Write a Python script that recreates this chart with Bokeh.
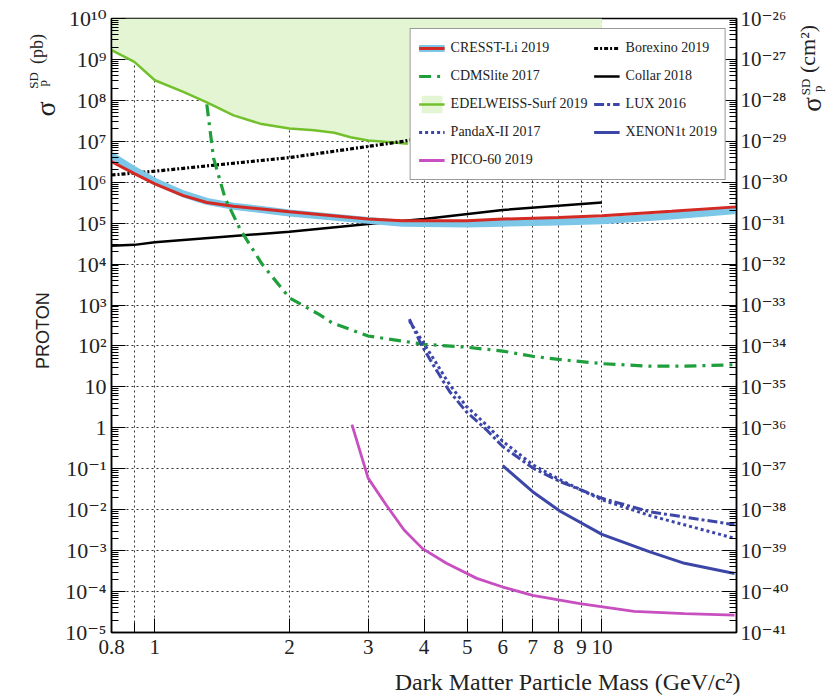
import math
from bokeh.plotting import figure
from bokeh.layouts import row, column
from bokeh.models import (Range1d, LogScale, LogAxis, FixedTicker,
                          CustomJSTickFormatter, Label, Legend, LegendItem)
from bokeh.embed import file_html
from bokeh.resources import INLINE

# ---------------- data (mass in GeV/c^2, cross section in pb) ----------------
edelweiss_m = [0.8, 0.9, 1.0, 1.158, 1.307, 1.5, 1.72, 2.0, 2.27, 2.52, 2.74, 3.0, 3.37, 3.68, 10.0]
edelweiss_v = [1.7e9, 8.7e8, 3.1e8, 1.62e8, 8.9e7, 4.3e7, 2.7e7, 2.05e7, 1.86e7, 1.62e7, 1.26e7, 1.05e7, 9.5e6, 8.7e6, 8.0e6]

borexino_m = [0.8, 1.0, 2.0, 3.0, 3.6, 3.85]
borexino_v = [1.5e6, 1.86e6, 4.0e6, 7.5e6, 1.0e7, 1.15e7]

cresst_m = [0.8, 0.9, 1.0, 1.158, 1.307, 1.5, 2.0, 3.0, 3.58, 5.0, 6.0, 8.0, 10.0, 14.3, 20.0]
cresst_red = [3.2e6, 1.62e6, 9.1e5, 4.7e5, 3.2e5, 2.6e5, 1.9e5, 1.26e5, 1.15e5, 1.15e5, 1.26e5, 1.38e5, 1.51e5, 1.95e5, 2.5e5]
cresst_blue = [4.5e6, 2.0e6, 1.05e6, 5.2e5, 3.4e5, 2.6e5, 1.78e5, 1.17e5, 1.0e5, 9.5e4, 1.0e5, 1.07e5, 1.15e5, 1.5e5, 2.05e5]

collar_m = [0.8, 0.9, 1.0, 2.0, 3.0, 4.0, 6.0, 10.0]
collar_v = [2.8e4, 2.95e4, 3.4e4, 6.2e4, 9.5e4, 1.26e5, 2.1e5, 3.2e5]

cdmslite_m = [1.307, 1.353, 1.437, 1.553, 1.737, 2.0, 2.33, 2.49, 3.0, 4.0, 5.0, 6.0, 7.0, 8.0, 10.0, 12.8, 15.3, 20.0]
cdmslite_v = [8.0e7, 3.9e6, 4.0e5, 7.0e4, 1.0e4, 1.5e3, 590, 370, 175, 110, 93, 75, 56, 47, 37, 32, 32, 35]

lux_m = [3.71, 3.94, 4.19, 4.56, 4.97, 5.51, 6.0, 7.0, 8.05, 10.0, 12.8, 19.8]
lux_v = [450, 110, 35, 7.8, 2.5, 0.91, 0.35, 0.105, 0.049, 0.019, 0.0089, 0.0043]

pandax_m = [3.71, 4.19, 4.56, 4.97, 5.51, 6.0, 7.0, 8.05, 10.0, 12.8, 19.8]
pandax_v = [410, 51, 11.5, 3.4, 1.2, 0.47, 0.126, 0.054, 0.0174, 0.0072, 0.002]

xenon_m = [6.0, 7.0, 8.05, 10.0, 12.8, 15.3, 19.8]
xenon_v = [0.12, 0.0275, 0.0093, 0.0025, 0.00093, 0.00049, 0.000275]

pico_m = [2.76, 3.0, 3.29, 3.61, 3.97, 4.49, 5.25, 6.0, 7.0, 8.93, 11.8, 15.3, 19.8]
pico_v = [1.2, 0.059, 0.0132, 0.0032, 0.00112, 0.00049, 0.00021, 0.000129, 8.1e-5, 5.1e-5, 3.3e-5, 2.9e-5, 2.65e-5]

x_ticks = [0.8, 1, 2, 3, 4, 5, 6, 7, 8, 9, 10]
x_minor = [0.9]
y_left_exponents = list(range(-5, 11))      # 10^-5 ... 10^10 pb
y_right_exponents = list(range(-41, -25))   # 10^-41 ... 10^-26 cm^2

SERIF = "Liberation Serif"
TICKFONT = "Liberation Serif, DejaVu Serif"
BLUE = "#3c46a8"
TXT = "#222222"

y_major = [10.0 ** e for e in y_left_exponents]
y_minor = [m * 10.0 ** e for e in y_left_exponents[:-1] for m in range(2, 10)]
r_major = [10.0 ** e for e in y_right_exponents]
r_minor = [m * 10.0 ** e for e in y_right_exponents[:-1] for m in range(2, 10)]

W_LEFT, W_RIGHT = 62, 44
H_TOP, H_BOTTOM = 665, 32

p = figure(width=728, height=H_TOP, x_axis_type="log", y_axis_type="log",
           x_range=Range1d(0.8, 20), y_range=Range1d(1e-5, 1e10),
           output_backend="svg", toolbar_location=None,
           min_border_left=48, min_border_right=55, min_border_top=18, min_border_bottom=33)
p.frame_width = 625
p.frame_height = 614
p.outline_line_color = "black"
p.outline_line_width = 1.5

p.extra_y_ranges = {"cm": Range1d(1e-41, 1e-26)}
p.extra_y_scales = {"cm": LogScale()}

sup_js = """
const sup = {"0":"\u2070","1":"\u00b9","2":"\u00b2","3":"\u00b3","4":"\u2074","5":"\u2075","6":"\u2076","7":"\u2077","8":"\u2078","9":"\u2079","-":"\u207b"};
const e = Math.round(Math.log10(tick));
if (ONE && e == 0) return "1";
if (ONE && e == 1) return "10";
return "10" + String(e).split("").map(c => sup[c]).join("");
"""

xa = p.xaxis[0]
xa.ticker = FixedTicker(ticks=x_ticks, minor_ticks=x_minor)
xa.formatter = CustomJSTickFormatter(code="return String(Math.round(tick*10)/10);")
ya = p.yaxis[0]
ya.ticker = FixedTicker(ticks=y_major, minor_ticks=y_minor)
ya.formatter = CustomJSTickFormatter(code=sup_js.replace("ONE", "true"))
ra = LogAxis(y_range_name="cm", ticker=FixedTicker(ticks=r_major, minor_ticks=r_minor),
             formatter=CustomJSTickFormatter(code=sup_js.replace("ONE", "false")))
p.add_layout(ra, "right")

for ax in [xa, ya, ra]:
    ax.axis_line_color = "black"
    ax.axis_line_width = 1.5
    ax.major_tick_in = 14
    ax.major_tick_out = 0
    ax.minor_tick_in = 7
    ax.minor_tick_out = 0
    ax.major_tick_line_color = "black"
    ax.minor_tick_line_color = "black"
    ax.major_label_text_font = TICKFONT
    ax.major_label_text_font_size = "22px"
    ax.major_label_text_color = TXT
    ax.major_label_standoff = 5
xa.minor_tick_in = 10
xa.major_label_text_font_size = "21px"
xa.major_label_standoff = 7
ra.major_label_text_font_size = "21px"
ra.major_label_standoff = 4

p.xgrid.ticker = FixedTicker(ticks=x_ticks, minor_ticks=x_minor)
p.ygrid.ticker = FixedTicker(ticks=y_major, minor_ticks=[])
for g in [p.xgrid, p.ygrid]:
    g.grid_line_color = "#333333"
    g.grid_line_dash = "2 3"
    g.grid_line_width = 1
p.xgrid.minor_grid_line_color = "#333333"
p.xgrid.minor_grid_line_dash = "2 3"

# ---------------- glyphs ----------------
fill_x = edelweiss_m + [10.0, 0.8]
fill_y = edelweiss_v + [1e10, 1e10]
r_fill = p.patch(fill_x, fill_y, fill_color="#e4f5d4", line_color=None)
r_edel = p.line(edelweiss_m[:-1], edelweiss_v[:-1], line_color="#72c02c", line_width=2.5)

r_borex = p.line(borexino_m, borexino_v, line_color="black", line_width=3.2, line_dash="4 2 2 2")
r_collar = p.line(collar_m, collar_v, line_color="black", line_width=2.5)
r_cb = p.line(cresst_m, cresst_blue, line_color="#7cc6e8", line_width=7)
r_cr = p.line(cresst_m, cresst_red, line_color="#d42a24", line_width=3)
r_cdms = p.line(cdmslite_m, cdmslite_v, line_color="#1f9e3c", line_width=3.2, line_dash="12 6 3 6")
r_lux = p.line(lux_m, lux_v, line_color=BLUE, line_width=3, line_dash="10 3 3 3")
r_pandax = p.line(pandax_m, pandax_v, line_color=BLUE, line_width=3, line_dash="3 3")
r_xenon = p.line(xenon_m, xenon_v, line_color=BLUE, line_width=3)
r_pico = p.line(pico_m, pico_v, line_color="#c74fbf", line_width=2.8)

items = [
    LegendItem(label="CRESST-Li 2019", renderers=[r_cb, r_cr]),
    LegendItem(label="CDMSlite 2017", renderers=[r_cdms]),
    LegendItem(label="EDELWEISS-Surf 2019", renderers=[r_fill, r_edel]),
    LegendItem(label="PandaX-II 2017", renderers=[r_pandax]),
    LegendItem(label="PICO-60 2019", renderers=[r_pico]),
    LegendItem(label="Borexino 2019", renderers=[r_borex]),
    LegendItem(label="Collar 2018", renderers=[r_collar]),
    LegendItem(label="LUX 2016", renderers=[r_lux]),
    LegendItem(label="XENON1t 2019", renderers=[r_xenon]),
]
legend = Legend(items=items, ncols=2, location="top_right", margin=10)
legend.label_text_font = SERIF
legend.label_text_font_size = "14px"
legend.label_text_color = TXT
legend.glyph_width = 26
legend.glyph_height = 22
legend.label_height = 22
legend.spacing = 6
legend.padding = 8
legend.label_standoff = 6
legend.border_line_color = "#333333"
legend.border_line_width = 1.5
legend.background_fill_alpha = 1.0
p.add_layout(legend, "center")


# ---------------- side panels with the axis titles ----------------
def side_fig(w, h):
    f = figure(width=w, height=h, x_range=Range1d(0, w), y_range=Range1d(0, h),
               x_axis_location=None, y_axis_location=None, output_backend="svg",
               toolbar_location=None, min_border=0)
    f.outline_line_color = None
    f.xgrid.visible = False
    f.ygrid.visible = False
    return f


def lab(f, text, x, y, size, font=SERIF, angle=math.pi / 2, align="center"):
    f.add_layout(Label(x=x, y=y, text=text, angle=angle, text_font=font,
                       text_font_size=size, text_align=align,
                       text_baseline="alphabetic", text_color=TXT))


left = side_fig(W_LEFT, H_TOP)
lab(left, "\u03c3", 45, 567, "28px")
lab(left, "SD", 33, 598, "13px")
lab(left, "p", 42, 595, "13px")
lab(left, "(pb)", 36, 632, "18px")
lab(left, "PROTON", 42, 327, "18px", font="Liberation Sans")

right = side_fig(W_RIGHT, H_TOP)
lab(right, "\u03c3", 20, 572, "27px")
lab(right, "SD", 14, 591, "13px")
lab(right, "p", 26, 589, "13px")
lab(right, "(cm\u00b2)", 16, 632, "22px")

bottom = side_fig(W_LEFT + 728 + W_RIGHT, H_BOTTOM)
lab(bottom, "Dark Matter Particle Mass (GeV/c\u00b2)", 740, 16, "24px", angle=0.0, align="right")

layout = column(row(left, p, right), bottom)
open("out.html", "w").write(file_html(layout, INLINE))
